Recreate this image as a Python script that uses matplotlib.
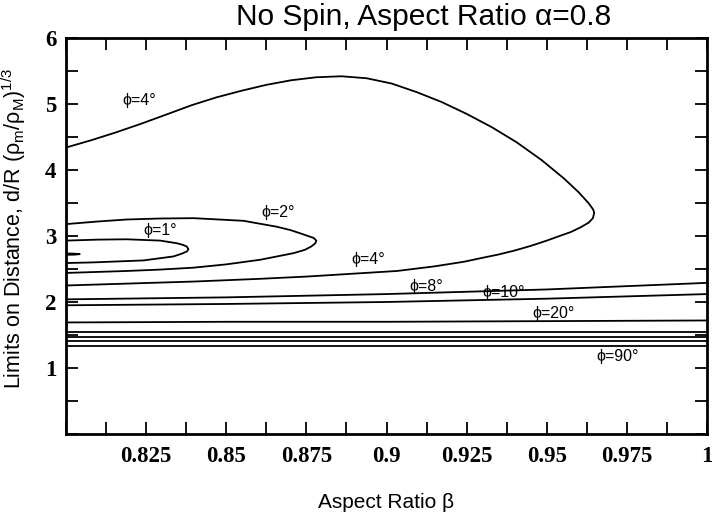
import matplotlib
matplotlib.use('Agg')
import matplotlib.pyplot as plt
from matplotlib.ticker import MultipleLocator, FixedLocator, FixedFormatter

plt.rcParams['font.family'] = ['Liberation Sans', 'DejaVu Sans']
plt.rcParams['mathtext.fontset'] = 'custom'
plt.rcParams['mathtext.rm'] = 'Liberation Sans'
plt.rcParams['mathtext.it'] = 'Liberation Sans'
plt.rcParams['mathtext.default'] = 'regular'

# closed contours, read as (beta, d) going along the upper branch then back along the lower one
phi4_beta = [0.8, 0.8078, 0.8156, 0.8234, 0.8313, 0.8391, 0.8469, 0.8547, 0.8625, 0.8703,
             0.8781, 0.8859, 0.8938, 0.9016, 0.9094, 0.9172, 0.925, 0.9328, 0.9406, 0.9484,
             0.9554, 0.96, 0.963, 0.9645, 0.9648,
             0.9644, 0.963, 0.9605, 0.9575, 0.954, 0.95, 0.945, 0.94, 0.935, 0.93,
             0.9242, 0.915, 0.9033, 0.89, 0.875, 0.86, 0.84, 0.82, 0.8]
phi4_d = [4.34, 4.45, 4.57, 4.70, 4.84, 4.98, 5.10, 5.20, 5.29, 5.36,
          5.405, 5.42, 5.39, 5.31, 5.18, 5.03, 4.85, 4.65, 4.42, 4.15,
          3.87, 3.66, 3.50, 3.40, 3.35,
          3.27, 3.20, 3.13, 3.06, 3.00, 2.93, 2.85, 2.78, 2.72, 2.67,
          2.61, 2.54, 2.47, 2.43, 2.385, 2.35, 2.31, 2.28, 2.25]

phi2_beta = [0.8, 0.81, 0.819, 0.8295, 0.8398, 0.8554, 0.8658, 0.87, 0.8731, 0.8755,
             0.8773, 0.8781, 0.8778, 0.8765, 0.8745, 0.871, 0.8606, 0.85, 0.8398, 0.829,
             0.819, 0.8]
phi2_d = [3.18, 3.22, 3.25, 3.265, 3.27, 3.23, 3.14, 3.09, 3.04, 3.00,
          2.97, 2.93, 2.89, 2.84, 2.79, 2.74, 2.64, 2.57, 2.52, 2.49,
          2.47, 2.44]

phi1_beta = [0.8, 0.81, 0.819, 0.8294, 0.8346, 0.8365, 0.8377, 0.8382,
             0.8377, 0.836, 0.8335, 0.8242, 0.8085, 0.8]
phi1_d = [2.93, 2.945, 2.95, 2.93, 2.89, 2.865, 2.84, 2.80,
          2.765, 2.73, 2.69, 2.63, 2.60, 2.59]

small_beta = [0.8, 0.8025, 0.8043, 0.8025, 0.8]
small_d = [2.735, 2.733, 2.725, 2.717, 2.715]

# open curves across the whole range
beta = [0.8, 0.85, 0.9, 0.95, 1.0]
phi8_d = [2.04, 2.07, 2.12, 2.19, 2.29]
phi10_d = [1.95, 1.97, 2.00, 2.05, 2.12]
phi20_d = [1.69, 1.70, 1.70, 1.71, 1.72]
phi30_d = [1.55, 1.55, 1.55, 1.55, 1.55]
phi45_d = [1.47, 1.47, 1.47, 1.47, 1.47]
phi60_d = [1.41, 1.41, 1.41, 1.41, 1.41]
phi90_d = [1.34, 1.34, 1.34, 1.34, 1.34]

labels = ['\u03d5=4\u00b0', '\u03d5=2\u00b0', '\u03d5=1\u00b0', '\u03d5=4\u00b0',
          '\u03d5=8\u00b0', '\u03d5=10\u00b0', '\u03d5=20\u00b0', '\u03d5=90\u00b0']
label_beta = [0.8175, 0.861, 0.824, 0.889, 0.907, 0.930, 0.9456, 0.9656]
label_d = [5.06, 3.36, 3.09, 2.64, 2.24, 2.15, 1.83, 1.17]

xtick_vals = [0.825, 0.85, 0.875, 0.9, 0.925, 0.95, 0.975, 1.0]
xtick_text = ['0.825', '0.85', '0.875', '0.9', '0.925', '0.95', '0.975', '1']
ytick_vals = [1, 2, 3, 4, 5, 6]

fig = plt.figure(figsize=(7.12, 5.19), dpi=100)
ax = fig.add_axes([0.0927, 0.1638, 0.9003, 0.763])

lw = 1.3
ax.plot(phi4_beta, phi4_d, color='black', lw=lw)
ax.plot(phi2_beta, phi2_d, color='black', lw=lw)
ax.plot(phi1_beta, phi1_d, color='black', lw=lw)
ax.plot(small_beta, small_d, color='black', lw=lw)
for d in [phi8_d, phi10_d, phi20_d, phi30_d, phi45_d, phi60_d, phi90_d]:
    ax.plot(beta, d, color='black', lw=lw)

for t, bx, by in zip(labels, label_beta, label_d):
    ax.text(bx, by, t, fontsize=11.5, va='center', ha='left')

ax.set_xlim(0.8, 1.0)
ax.set_ylim(0, 6)

ax.xaxis.set_major_locator(FixedLocator(xtick_vals))
ax.xaxis.set_major_formatter(FixedFormatter(xtick_text))
ax.xaxis.set_minor_locator(MultipleLocator(0.0125))
ax.yaxis.set_major_locator(FixedLocator(ytick_vals))
ax.yaxis.set_minor_locator(MultipleLocator(0.5))

ax.tick_params(which='both', direction='in', top=True, right=True,
               length=8.5, width=1.3)
ax.tick_params(axis='x', which='major', pad=9)
ax.tick_params(axis='y', which='major', pad=7)
for lab in ax.get_xticklabels() + ax.get_yticklabels():
    lab.set_fontfamily('Liberation Serif')
    lab.set_fontweight('bold')
    lab.set_fontsize(16.5)

for s in ax.spines.values():
    s.set_linewidth(2.0)

fig.text(0.5955, 0.967, 'No Spin, Aspect Ratio \u03b1=0.8', fontsize=21.5,
         ha='center', va='center')
ax.set_xlabel('Aspect Ratio \u03b2', fontsize=15)
ax.set_ylabel(r'Limits on Distance, d/R ($\rho_m$/$\rho_M$)$^{1/3}$', fontsize=15.5)
ax.xaxis.set_label_coords(0.5, -0.15)
ax.yaxis.set_label_coords(-0.059, 0.52)

fig.savefig('out.png', dpi=100)
